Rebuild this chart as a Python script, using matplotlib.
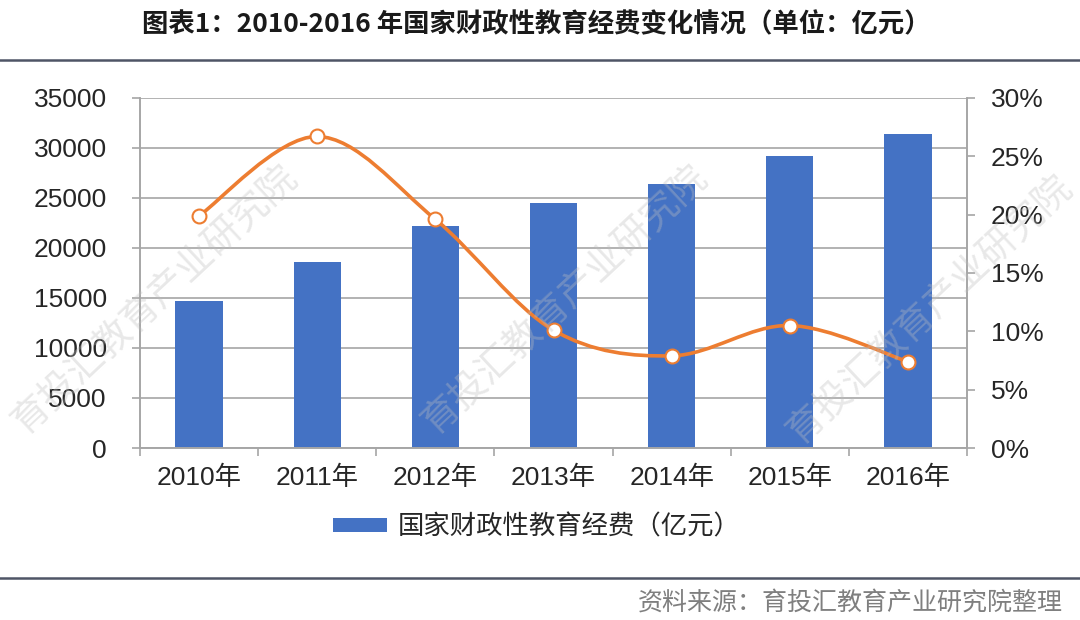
import matplotlib
matplotlib.use("Agg")
import matplotlib.pyplot as plt
from matplotlib.path import Path
from matplotlib.patches import PathPatch, Patch
import numpy as np

plt.rcParams['font.family'] = ['Liberation Sans', 'Noto Sans CJK SC', 'DejaVu Sans']

# data
years = ['2010年', '2011年', '2012年', '2013年', '2014年', '2015年', '2016年']
spend = [14670, 18587, 22236, 24488, 26421, 29221, 31396]  # 亿元
growth = [19.9, 26.7, 19.6, 10.1, 7.9, 10.5, 7.4]  # %
left_ticks = [0, 5000, 10000, 15000, 20000, 25000, 30000, 35000]
right_ticks = [0, 5, 10, 15, 20, 25, 30]

BLUE = '#4472C4'
ORANGE = '#ED7D31'
GRID = '#a6a6a6'
CJK = ['Noto Sans CJK SC', 'DejaVu Sans']

fig = plt.figure(figsize=(10.8, 6.2), dpi=100)
ax = fig.add_axes([140 / 1080, 1 - 448 / 620, 827 / 1080, 350 / 620])
ax2 = ax.twinx()

x = np.arange(len(years))
ax.bar(x, spend, width=0.4, color=BLUE, zorder=2, label='国家财政性教育经费（亿元）')
ax.set_xlim(-0.5, len(years) - 0.5)
ax.set_ylim(0, 35000)
ax.set_yticks(left_ticks)
ax.set_yticklabels([str(v) for v in left_ticks])
ax.yaxis.grid(True, color=GRID, lw=1.2, zorder=0)
ax.set_axisbelow(True)

# category ticks sit between the bars
ax.set_xticks(np.arange(-0.5, len(years) + 0.5, 1.0))
ax.set_xticklabels([])
ax.set_xticks(x, minor=True)
ax.set_xticklabels(years, minor=True, fontsize=19, color='#262626')
ax.tick_params(axis='x', which='minor', length=0, pad=13)
ax.tick_params(axis='x', which='major', length=6, width=1.2, color=GRID)
ax.tick_params(axis='y', length=6, width=1.2, color=GRID, labelsize=19,
               labelcolor='#262626', pad=18)

for s in ['top']:
    ax.spines[s].set_visible(False)
    ax2.spines[s].set_visible(False)
for s in ['left', 'bottom', 'right']:
    ax.spines[s].set_color(GRID)
    ax.spines[s].set_linewidth(1.2)
    ax2.spines[s].set_color(GRID)
    ax2.spines[s].set_linewidth(1.2)

ax2.set_ylim(0, 30)
ax2.set_yticks(right_ticks)
ax2.set_yticklabels([f'{v}%' for v in right_ticks])
ax2.tick_params(axis='y', length=6, width=1.2, color=GRID, labelsize=19,
                labelcolor='#262626', pad=11)

# smoothed line like Excel (Catmull-Rom as cubic bezier through the points)
pts = np.column_stack([x, growth]).astype(float)
ext = np.vstack([pts[0], pts, pts[-1]])
verts = [tuple(pts[0])]
codes = [Path.MOVETO]
for i in range(len(pts) - 1):
    p0, p1, p2, p3 = ext[i], ext[i + 1], ext[i + 2], ext[i + 3]
    c1 = p1 + (p2 - p0) / 6
    c2 = p2 - (p3 - p1) / 6
    verts += [tuple(c1), tuple(c2), tuple(p2)]
    codes += [Path.CURVE4] * 3
ax2.add_patch(PathPatch(Path(verts, codes), fill=False, edgecolor=ORANGE,
                        lw=2.6, zorder=3, capstyle='round'))
ax2.plot(x, growth, linestyle='none', marker='o', markersize=10,
         markerfacecolor='white', markeredgecolor=ORANGE, markeredgewidth=1.5, zorder=4)

# legend
leg = fig.legend(handles=[Patch(facecolor=BLUE, edgecolor='none')],
                 labels=['国家财政性教育经费（亿元）'],
                 loc='center', bbox_to_anchor=(0.497, 1 - 527 / 620),
                 frameon=False, prop={'family': CJK, 'size': 19},
                 handlelength=2.05, handleheight=0.45, handletextpad=0.4)
for t in leg.get_texts():
    t.set_color('#262626')

# title, rules and source
fig.text(0.497, 1 - 25 / 620, '图表1：2010-2016 年国家财政性教育经费变化情况（单位：亿元）',
         ha='center', va='center', fontsize=19, fontweight='bold',
         family=CJK, color='#1a1a1a')
fig.add_artist(plt.Line2D([0, 1], [1 - 60 / 620] * 2, color='#4f5566', lw=1.8))
fig.add_artist(plt.Line2D([0, 1], [1 - 578 / 620] * 2, color='#4f5566', lw=1.8))
fig.text(1 - 17 / 1080, 1 - 603 / 620, '资料来源：育投汇教育产业研究院整理',
         ha='right', va='center', fontsize=18, family=CJK, color='#7f7f7f')

# watermark
for cx, cy in [(155, 300), (565, 300), (930, 310)]:
    fig.text(cx / 1080, 1 - cy / 620, '育投汇教育产业研究院', rotation=43,
             ha='center', va='center', fontsize=27, family=CJK,
             color='#bfbfbf', alpha=0.35, zorder=10)

fig.savefig('out.png', dpi=100)
